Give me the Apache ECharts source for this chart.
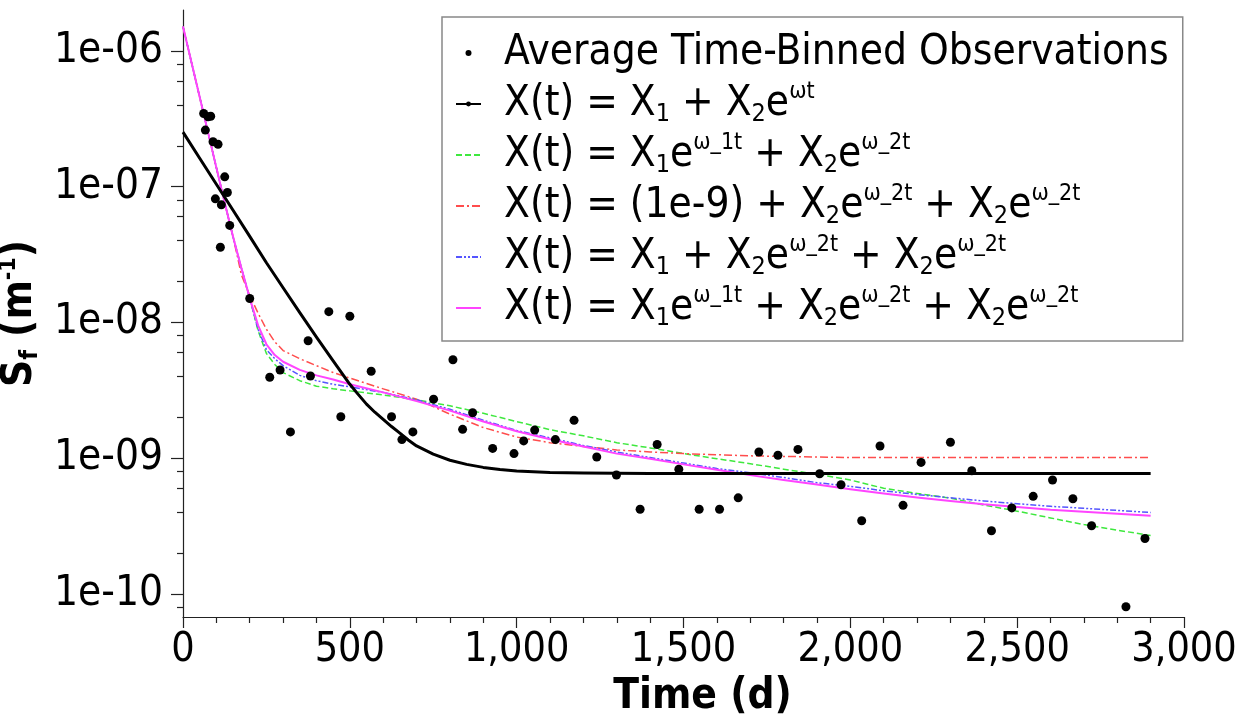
<!DOCTYPE html>
<html>
<head>
<meta charset="utf-8">
<script src="https://cdn.jsdelivr.net/npm/echarts@6/dist/echarts.min.js"></script>
<style>
  html, body { margin: 0; padding: 0; background: #fff; }
  #chart { width: 1239px; height: 719px; }
</style>
</head>
<body>
<div id="chart"></div>
<script>
// Time-binned sediment observations and fitted decay models
const FONT = '"DejaVu Sans Condensed", "DejaVu Sans", sans-serif';

// observations: [time (d), S_f (1/m)]
const obsTime = [62, 67, 75, 83, 90, 97, 105, 112, 115, 125, 133, 140, 200, 260, 291, 322, 375, 382, 437, 473, 500, 564, 625, 656, 689, 751, 809, 838, 868, 928, 992, 1021, 1054, 1116, 1172, 1240, 1299, 1370, 1421, 1486, 1547, 1608, 1664, 1726, 1783, 1843, 1908, 1972, 2034, 2089, 2158, 2212, 2300, 2364, 2423, 2484, 2548, 2606, 2667, 2723, 2826, 2883];
const obsValue = [3.46e-7, 2.61e-7, 3.27e-7, 3.3e-7, 2.14e-7, 8.13e-8, 2.05e-7, 3.58e-8, 7.34e-8, 1.18e-7, 9.06e-8, 5.18e-8, 1.5e-8, 3.94e-9, 4.46e-9, 1.56e-9, 7.33e-9, 4.03e-9, 1.2e-8, 2.02e-9, 1.11e-8, 4.37e-9, 2.02e-9, 1.37e-9, 1.56e-9, 2.72e-9, 5.31e-9, 1.63e-9, 2.16e-9, 1.18e-9, 1.08e-9, 1.34e-9, 1.61e-9, 1.37e-9, 1.9e-9, 1.02e-9, 7.52e-10, 4.2e-10, 1.26e-9, 8.28e-10, 4.2e-10, 4.2e-10, 5.1e-10, 1.11e-9, 1.05e-9, 1.16e-9, 7.67e-10, 6.37e-10, 3.46e-10, 1.23e-9, 4.49e-10, 9.3e-10, 1.31e-9, 8.07e-10, 2.92e-10, 4.3e-10, 5.23e-10, 6.9e-10, 5.02e-10, 3.18e-10, 8.05e-11, 2.56e-10];

// single-exponential model: its own time grid (denser around the knee)
const singleTime = [0, 50, 100, 150, 200, 250, 300, 350, 400, 450, 500, 525, 550, 575, 600, 625, 650, 675, 700, 750, 800, 850, 900, 950, 1000, 1100, 1200, 1400, 1600, 2000, 2400, 2900];
const fitSingle = [2.52e-7, 1.62e-7, 1.04e-7, 6.7e-8, 4.3e-8, 2.75e-8, 1.8e-8, 1.18e-8, 7.8e-9, 5.2e-9, 3.5e-9, 2.95e-9, 2.5e-9, 2.18e-9, 1.93e-9, 1.71e-9, 1.53e-9, 1.36e-9, 1.23e-9, 1.07e-9, 9.65e-10, 9.0e-10, 8.55e-10, 8.25e-10, 8.05e-10, 7.85e-10, 7.77e-10, 7.72e-10, 7.7e-10, 7.7e-10, 7.7e-10, 7.7e-10];

// multi-term models sampled on a common time grid
const fitTime = [0, 25, 50, 75, 100, 125, 150, 175, 200, 225, 250, 275, 300, 350, 400, 450, 500, 600, 700, 800, 900, 1000, 1100, 1200, 1300, 1400, 1500, 1600, 1700, 1800, 1900, 2000, 2100, 2200, 2300, 2400, 2500, 2600, 2700, 2800, 2900];
const fitTwoExp = [1.51e-6, 8.3e-7, 4.57e-7, 2.51e-7, 1.38e-7, 7.6e-8, 4.27e-8, 2.51e-8, 1.51e-8, 8.7e-9, 5.9e-9, 4.9e-9, 4.27e-9, 3.72e-9, 3.39e-9, 3.24e-9, 3.13e-9, 2.92e-9, 2.69e-9, 2.43e-9, 2.14e-9, 1.86e-9, 1.62e-9, 1.46e-9, 1.3e-9, 1.19e-9, 1.08e-9, 9.9e-10, 9.1e-10, 8.3e-10, 7.6e-10, 6.9e-10, 6.0e-10, 5.5e-10, 5.07e-10, 4.52e-10, 4.07e-10, 3.63e-10, 3.24e-10, 2.95e-10, 2.69e-10];
const fitFixedFloor = [1.51e-6, 8.3e-7, 4.57e-7, 2.51e-7, 1.38e-7, 7.6e-8, 4.27e-8, 2.24e-8, 1.58e-8, 1.17e-8, 8.9e-9, 7.2e-9, 6.2e-9, 5.4e-9, 4.8e-9, 4.27e-9, 3.89e-9, 3.24e-9, 2.72e-9, 2.11e-9, 1.68e-9, 1.43e-9, 1.3e-9, 1.22e-9, 1.15e-9, 1.11e-9, 1.08e-9, 1.06e-9, 1.04e-9, 1.03e-9, 1.02e-9, 1.01e-9, 1.01e-9, 1.01e-9, 1.01e-9, 1.01e-9, 1.01e-9, 1.01e-9, 1.01e-9, 1.01e-9, 1.01e-9];
const fitFreeFloor = [1.51e-6, 8.3e-7, 4.57e-7, 2.51e-7, 1.38e-7, 7.6e-8, 4.27e-8, 2.51e-8, 1.51e-8, 8.9e-9, 6.3e-9, 5.4e-9, 4.8e-9, 4.07e-9, 3.72e-9, 3.5e-9, 3.35e-9, 3.05e-9, 2.69e-9, 2.29e-9, 1.9e-9, 1.6e-9, 1.41e-9, 1.24e-9, 1.11e-9, 1.01e-9, 9.2e-10, 8.4e-10, 7.8e-10, 7.2e-10, 6.6e-10, 6.2e-10, 5.75e-10, 5.4e-10, 5.1e-10, 4.84e-10, 4.62e-10, 4.42e-10, 4.27e-10, 4.12e-10, 3.98e-10];
const fitThreeExp = [1.51e-6, 8.3e-7, 4.57e-7, 2.51e-7, 1.38e-7, 7.6e-8, 4.27e-8, 2.51e-8, 1.51e-8, 9.5e-9, 6.9e-9, 5.75e-9, 5.13e-9, 4.47e-9, 4.07e-9, 3.8e-9, 3.5e-9, 3.05e-9, 2.63e-9, 2.24e-9, 1.86e-9, 1.58e-9, 1.38e-9, 1.22e-9, 1.08e-9, 9.9e-10, 9.0e-10, 8.2e-10, 7.5e-10, 6.9e-10, 6.4e-10, 5.9e-10, 5.5e-10, 5.13e-10, 4.84e-10, 4.57e-10, 4.37e-10, 4.17e-10, 4.03e-10, 3.89e-10, 3.76e-10];

// axis ticks
const xTicks = [0, 500, 1000, 1500, 2000, 2500, 3000];
const yDecades = [1e-10, 1e-9, 1e-8, 1e-7, 1e-6];
const yMinorTicks = [8e-11, 2e-10, 4e-10, 6e-10, 8e-10, 2e-9, 4e-9, 6e-9, 8e-9, 2e-8, 4e-8, 6e-8, 8e-8, 2e-7, 4e-7, 6e-7, 8e-7];

const seriesNames = [
  'Average Time-Binned Observations',
  'X(t) = X1 + X2e^wt',
  'X(t) = X1e^w_1t + X2e^w_2t',
  'X(t) = (1e-9) + X2e^w_2t + X2e^w_2t',
  'X(t) = X1 + X2e^w_2t + X2e^w_2t',
  'X(t) = X1e^w_1t + X2e^w_2t + X2e^w_2t'
];
const legendLabels = [
  'Average Time-Binned Observations',
  'X(t) = X{sub|1} + X{sub|2}e{sup|ωt}',
  'X(t) = X{sub|1}e{sup|ω_1t} + X{sub|2}e{sup|ω_2t}',
  'X(t) = (1e-9) + X{sub|2}e{sup|ω_2t} + X{sub|2}e{sup|ω_2t}',
  'X(t) = X{sub|1} + X{sub|2}e{sup|ω_2t} + X{sub|2}e{sup|ω_2t}',
  'X(t) = X{sub|1}e{sup|ω_1t} + X{sub|2}e{sup|ω_2t} + X{sub|2}e{sup|ω_2t}'
];

const pair = (xs, ys) => xs.map((x, i) => [x, ys[i]]);
const Y_MIN = 6.76e-11, Y_MAX = 2e-6;
const axisColor = '#222';

const chart = echarts.init(document.getElementById('chart'), null, { renderer: 'canvas' });

function lineSeries(name, times, values, color, width, type, extra) {
  return Object.assign({
    name: name,
    type: 'line',
    data: pair(times, values),
    showSymbol: false,
    symbol: 'none',
    smooth: false,
    z: 3,
    lineStyle: { color: color, width: width, type: type, join: 'round' },
    itemStyle: { color: color },
    emphasis: { disabled: true }
  }, extra || {});
}

// legend entries: the curves show only their line sample; the single-exponential keeps a tiny marker
const legendData = seriesNames.map((n, i) => {
  if (i <= 1) return { name: n };
  return { name: n, itemStyle: { opacity: 0 } };
});

chart.setOption({
  animation: false,
  backgroundColor: '#fff',
  textStyle: { fontFamily: FONT },
  grid: { left: 183, right: 55, top: 10, bottom: 102, containLabel: false, outerBoundsMode: 'none' },
  legend: {
    orient: 'vertical',
    left: 442,
    top: 17,
    padding: [13, 14, 10, 13],
    itemGap: 5,
    itemWidth: 25,
    itemHeight: 6,
    backgroundColor: '#fff',
    borderColor: '#888',
    borderWidth: 1.5,
    borderRadius: 0,
    data: legendData,
    formatter: name => legendLabels[seriesNames.indexOf(name)],
    textStyle: {
      fontFamily: FONT,
      fontSize: 42,
      color: '#000',
      lineHeight: 46,
      padding: [0, 0, 0, 18],
      rich: {
        sub: { fontFamily: FONT, fontSize: 25, color: '#000', lineHeight: 23, verticalAlign: 'bottom' },
        sup: { fontFamily: FONT, fontSize: 23, color: '#000', lineHeight: 29, verticalAlign: 'top' }
      }
    }
  },
  xAxis: {
    type: 'value',
    min: 0,
    max: 3000,
    interval: 500,
    name: 'Time (d)',
    nameLocation: 'middle',
    nameGap: 58,
    nameTextStyle: { fontFamily: FONT, fontSize: 42, fontWeight: 'bold', color: '#000', padding: [0, 0, 0, 38] },
    axisLine: { show: true, onZero: false, lineStyle: { color: axisColor, width: 1.2 } },
    axisTick: { show: true, inside: false, length: 11, lineStyle: { color: axisColor, width: 1.2 } },
    minorTick: { show: true, splitNumber: 5, length: 6, lineStyle: { color: axisColor, width: 1.2 } },
    splitLine: { show: false },
    minorSplitLine: { show: false },
    axisLabel: {
      margin: 13,
      fontFamily: FONT,
      fontSize: 41,
      color: '#000',
      formatter: v => xTicks.indexOf(v) >= 0 ? v.toLocaleString('en-US') : ''
    }
  },
  yAxis: [
    {
      type: 'log',
      logBase: 10,
      min: Y_MIN,
      max: Y_MAX,
      position: 'left',
      name: '{b|S}{bs|f}{b| (m}{bp|-1}{b|)}',
      nameLocation: 'middle',
      nameGap: 122,
      nameTextStyle: {
        rich: {
          b: { fontFamily: FONT, fontSize: 42, fontWeight: 'bold', color: '#000', lineHeight: 46 },
          bs: { fontFamily: FONT, fontSize: 25, fontWeight: 'bold', color: '#000', lineHeight: 22, verticalAlign: 'bottom' },
          bp: { fontFamily: FONT, fontSize: 23, fontWeight: 'bold', color: '#000', lineHeight: 29, verticalAlign: 'top' }
        }
      },
      axisLine: { show: true, onZero: false, lineStyle: { color: axisColor, width: 1.2 } },
      axisTick: { show: true, length: 12, customValues: yDecades, lineStyle: { color: axisColor, width: 1.2 } },
      splitLine: { show: false },
      axisLabel: {
        margin: 20,
        fontFamily: FONT,
        fontSize: 42,
        color: '#000',
        customValues: yDecades,
        formatter: v => {
          const e = Math.round(Math.log10(v));
          return '1e-' + String(-e).padStart(2, '0');
        }
      }
    },
    {
      type: 'log',
      logBase: 10,
      min: Y_MIN,
      max: Y_MAX,
      position: 'left',
      offset: 0,
      axisLine: { show: false },
      axisTick: { show: true, length: 6, customValues: yMinorTicks, lineStyle: { color: axisColor, width: 1.2 } },
      axisLabel: { show: false },
      splitLine: { show: false }
    }
  ],
  series: [
    {
      name: seriesNames[0],
      type: 'scatter',
      data: pair(obsTime, obsValue),
      symbol: 'circle',
      symbolSize: 9,
      z: 5,
      itemStyle: { color: '#000', opacity: 1 },
      emphasis: { disabled: true }
    },
    lineSeries(seriesNames[1], singleTime, fitSingle, '#000', 3, 'solid', { z: 4, symbol: 'circle', symbolSize: 3 }),
    lineSeries(seriesNames[2], fitTime, fitTwoExp, '#3ee83e', 1.5, [6, 3]),
    lineSeries(seriesNames[3], fitTime, fitFixedFloor, '#ff4d4d', 1.5, [8, 3, 2, 3]),
    lineSeries(seriesNames[4], fitTime, fitFreeFloor, '#5555ff', 1.5, [6, 2, 2, 2, 2, 2]),
    lineSeries(seriesNames[5], fitTime, fitThreeExp, '#ff44ff', 2, 'solid')
  ]
});
</script>
</body>
</html>
